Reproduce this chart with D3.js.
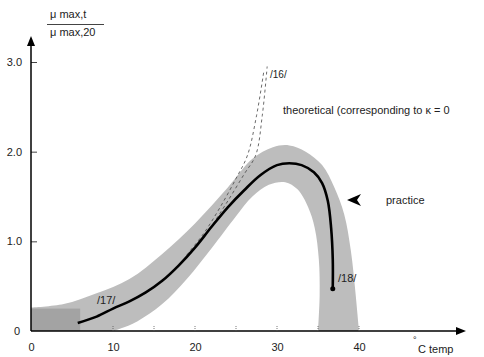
<!DOCTYPE html>
<html><head><meta charset="utf-8">
<script src="https://cdn.jsdelivr.net/npm/d3@7"></script>
<style>body{margin:0;background:#fff}svg{display:block}text{font-family:"Liberation Sans",Arial,sans-serif;fill:#222}</style>
</head><body><svg id="c" width="484" height="357"></svg>
<script>
// data
const xTicks = [0,10,20,30,40];
const xMinor = [10,15,20,25,30,35,40];
const yTicks = [0,1,2,3];
const yTickLabels = ["0","1.0","2.0","3.0"];
const practiceX = [5.7,8,10,12,14,16,18,20,22,24,26,28,30,31.5,33,34.5,35.5,36.2,36.6,36.8,36.8];
const practiceY = [0.09,0.16,0.25,0.33,0.43,0.56,0.73,0.93,1.16,1.38,1.57,1.74,1.85,1.87,1.85,1.77,1.65,1.45,1.15,0.8,0.47];
const theo1X = [20,22,24,26,27.4,28.2,28.8];
const theo1Y = [0.93,1.17,1.45,1.75,1.96,2.4,2.95];
const theo2X = [19,21,23,25,26.4,27.5,28.4];
const theo2Y = [0.85,1.08,1.37,1.7,1.96,2.4,2.9];
const bandUpperX = [0,4,8,12,16,20,24,27,29.5,31.5,33.5,35.5,37,38.2,39,39.6,40];
const bandUpperY = [0.26,0.3,0.42,0.58,0.86,1.2,1.6,1.92,2.05,2.07,2.0,1.85,1.6,1.3,0.9,0.4,0];
const bandLowerX = [35,35.2,35.1,34.6,33.8,32.5,31,29,27,25,22,19,16,13,11,10];
const bandLowerY = [0,0.4,0.8,1.15,1.38,1.58,1.66,1.63,1.5,1.28,0.92,0.58,0.3,0.11,0.03,0];
const darkBoxX = [0,6];
const darkBoxY = [0,0.25];

const svg = d3.select("#c");
const x = d3.scaleLinear().domain([0,40]).range([31,359]);
const y = d3.scaleLinear().domain([0,3]).range([331,62]);
const ln = d3.line().x(d=>x(d[0])).y(d=>y(d[1])).curve(d3.curveCatmullRom.alpha(0.5));

// band
const up = ln(bandUpperX.map((v,i)=>[v,bandUpperY[i]]));
const lo = ln(bandLowerX.map((v,i)=>[v,bandLowerY[i]])).replace(/^M/,"L");
svg.append("path")
  .attr("d", `M${x(0)},${y(0)} L` + up.slice(1) + lo + ` L${x(0)},${y(0)} Z`)
  .attr("fill","#bdbdbd");
svg.append("rect").attr("x",x(darkBoxX[0])).attr("y",y(darkBoxY[1]))
  .attr("width",x(darkBoxX[1])-x(darkBoxX[0])).attr("height",y(darkBoxY[0])-y(darkBoxY[1]))
  .attr("fill","#a3a3a3");

// theoretical dashed
[[theo1X,theo1Y],[theo2X,theo2Y]].forEach(([xs,ys])=>{
  svg.append("path").attr("d", ln(xs.map((v,i)=>[v,ys[i]])))
    .attr("fill","none").attr("stroke","#444").attr("stroke-width",0.8).attr("stroke-dasharray","3,3");
});

// practice curve
svg.append("path").attr("d", ln(practiceX.map((v,i)=>[v,practiceY[i]])))
  .attr("fill","none").attr("stroke","#000").attr("stroke-width",2.6);
svg.append("circle").attr("cx",x(practiceX[practiceX.length-1])).attr("cy",y(practiceY[practiceY.length-1])).attr("r",2.5).attr("fill","#000");

// axes
const xAxis = d3.axisBottom(x).tickValues(xTicks).tickSize(0).tickPadding(12).tickFormat(d3.format("d"));
const gx = svg.append("g").attr("transform",`translate(0,${y(0)})`).call(xAxis);
gx.select(".domain").remove();
gx.selectAll("text").attr("font-size",11).attr("fill","#222");
svg.append("line").attr("x1",x(0)).attr("x2",458).attr("y1",y(0)).attr("y2",y(0)).attr("stroke","#000").attr("stroke-width",1.5);
svg.append("path").attr("d",`M466,${y(0)} L456,${y(0)-4} L456,${y(0)+4}Z`).attr("fill","#000");
svg.selectAll(".xminor").data(xMinor).join("line")
  .attr("x1",d=>x(d)).attr("x2",d=>x(d)).attr("y1",y(0)).attr("y2",y(0)-5)
  .attr("stroke","#555").attr("stroke-width",0.8).attr("stroke-dasharray","1,1");

const yAxis = d3.axisRight(y).tickValues(yTicks.slice(1)).tickSize(6).tickFormat(()=>"");
const gy = svg.append("g").attr("transform",`translate(${x(0)},0)`).call(yAxis);
gy.select(".domain").remove();
gy.selectAll("line").attr("stroke","#444");
svg.append("line").attr("x1",x(0)).attr("x2",x(0)).attr("y1",y(0)).attr("y2",44).attr("stroke","#000").attr("stroke-width",1.5);
svg.append("path").attr("d",`M${x(0)},36 L${x(0)-4},46 L${x(0)+4},46Z`).attr("fill","#000");
svg.selectAll(".ylab").data(yTicks).join("text")
  .attr("x",(d,i)=> i===0 ? 20 : 22).attr("y",d=>y(d)+4).attr("text-anchor","end")
  .attr("font-size",11).attr("fill","#444").text((d,i)=>yTickLabels[i]);

// y label fraction
svg.append("text").attr("x",50).attr("y",18).attr("font-size",11).text("μ max,t");
svg.append("line").attr("x1",47).attr("x2",104).attr("y1",24.5).attr("y2",24.5).attr("stroke","#444").attr("stroke-width",1);
svg.append("text").attr("x",50).attr("y",36).attr("font-size",11).text("μ max,20");

// x label
svg.append("text").attr("x",413).attr("y",343).attr("font-size",9).text("°");
svg.append("text").attr("x",418).attr("y",353).attr("font-size",11).text("C  temp");

// annotations
svg.append("text").attr("x",270).attr("y",78).attr("font-size",10).text("/16/");
svg.append("text").attr("x",283).attr("y",114).attr("font-size",11).text("theoretical (corresponding to κ = 0");
svg.append("path").attr("d","M347,200 L361,194 L357,200 L361,206Z").attr("fill","#000");
svg.append("text").attr("x",386).attr("y",204).attr("font-size",11).text("practice");
svg.append("text").attr("x",97).attr("y",304).attr("font-size",11).attr("fill","#000").text("/17/");
svg.append("text").attr("x",338).attr("y",282).attr("font-size",11).attr("fill","#000").text("/18/");
</script></body></html>
